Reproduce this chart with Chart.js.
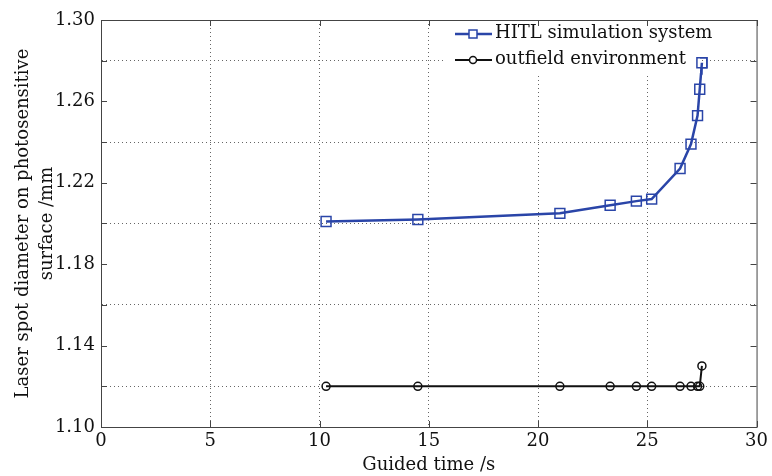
<!DOCTYPE html>
<html>
<head>
<meta charset="utf-8">
<script src="https://cdn.jsdelivr.net/npm/chart.js@4.4.0/dist/chart.umd.min.js"></script>
<style>
  html, body { margin: 0; padding: 0; background: #fff; }
  #wrap { width: 772px; height: 476px; }
</style>
</head>
<body>
<div id="wrap"><canvas id="spotChart" width="772" height="476"></canvas></div>
<script>
// guided time (s) shared by both series
var guidedTime = [10.3, 14.5, 21.0, 23.3, 24.5, 25.2, 26.5, 27.0, 27.3, 27.4, 27.5];
var hitlDiameter = [1.201, 1.202, 1.205, 1.209, 1.211, 1.212, 1.227, 1.239, 1.253, 1.266, 1.279];
var outfieldDiameter = [1.12, 1.12, 1.12, 1.12, 1.12, 1.12, 1.12, 1.12, 1.12, 1.12, 1.13];
var seriesNames = ['HITL simulation system', 'outfield environment'];
var xTicks = [0, 5, 10, 15, 20, 25, 30];
var yLabelled = ['1.10', '1.14', '1.18', '1.22', '1.26', '1.30'];

var FONT = 'DejaVu Serif';
var BLUE = '#2a45a8';

function toPoints(xs, ys) {
    return xs.map(function(x, i) { return { x: x, y: ys[i] }; });
}

// box, inward ticks and legend drawn like the matlab figure
var boxPlugin = {
    id: 'boxPlugin',
    afterDraw: function(chart) {
        var ctx = chart.ctx;
        var a = chart.chartArea;
        var xs = chart.scales.x, ys = chart.scales.y;
        ctx.save();
        ctx.strokeStyle = '#444';
        ctx.lineWidth = 1;
        ctx.setLineDash([]);
        ctx.strokeRect(a.left + 0.5, a.top + 0.5, a.right - a.left, a.bottom - a.top);
        ctx.beginPath();
        xTicks.forEach(function(v) {
            var px = Math.round(xs.getPixelForValue(v)) + 0.5;
            ctx.moveTo(px, a.bottom); ctx.lineTo(px, a.bottom - 6);
            ctx.moveTo(px, a.top); ctx.lineTo(px, a.top + 6);
        });
        for (var v = 1.10; v <= 1.3001; v += 0.02) {
            var py = Math.round(ys.getPixelForValue(v)) + 0.5;
            ctx.moveTo(a.left, py); ctx.lineTo(a.left + 6, py);
            ctx.moveTo(a.right, py); ctx.lineTo(a.right - 6, py);
        }
        ctx.stroke();
        ctx.restore();
    },
    afterDatasetsDraw: function(chart) {
        var ctx = chart.ctx;
        var a = chart.chartArea;
        ctx.save();
        // legend background over the grid
        ctx.fillStyle = '#fff';
        ctx.fillRect(445, a.top + 1, 255, 52);
        var rows = [
            { y: 34, color: BLUE, width: 2.5, style: 'rect', r: 4 },
            { y: 60, color: '#111', width: 2, style: 'circle', r: 3.5 }
        ];
        rows.forEach(function(r, i) {
            ctx.strokeStyle = r.color;
            ctx.lineWidth = r.width;
            ctx.beginPath();
            ctx.moveTo(455, r.y); ctx.lineTo(492, r.y);
            ctx.stroke();
            ctx.lineWidth = 1.5;
            ctx.fillStyle = '#fff';
            ctx.beginPath();
            if (r.style === 'rect') {
                ctx.rect(473 - r.r, r.y - r.r, r.r * 2, r.r * 2);
            } else {
                ctx.arc(473, r.y, r.r, 0, Math.PI * 2);
            }
            ctx.fill();
            ctx.stroke();
            ctx.fillStyle = '#111';
            ctx.font = '18px "' + FONT + '"';
            ctx.textBaseline = 'middle';
            ctx.fillText(seriesNames[i], 495, r.y - 1);
        });
        ctx.restore();
        // redraw top marker of HITL over the legend background
        var meta = chart.getDatasetMeta(0);
        var last = meta.data[meta.data.length - 1];
        ctx.save();
        ctx.strokeStyle = BLUE;
        ctx.fillStyle = '#fff';
        ctx.lineWidth = 1.5;
        ctx.beginPath();
        ctx.moveTo(last.x, last.y + 5);
        ctx.lineTo(last.x, last.y + 12);
        ctx.stroke();
        ctx.beginPath();
        ctx.rect(last.x - 5, last.y - 5, 10, 10);
        ctx.stroke();
        ctx.restore();
    }
};

var ctx = document.getElementById('spotChart').getContext('2d');
var spotChart = new Chart(ctx, {
    type: 'line',
    data: {
        datasets: [{
            label: seriesNames[0],
            data: toPoints(guidedTime, hitlDiameter),
            borderColor: BLUE,
            borderWidth: 2.5,
            pointStyle: 'rect',
            pointRadius: 7,
            pointBorderWidth: 1.5,
            pointBackgroundColor: 'rgba(255,255,255,0)',
            pointBorderColor: BLUE,
            fill: false,
            tension: 0
        }, {
            label: seriesNames[1],
            data: toPoints(guidedTime, outfieldDiameter),
            borderColor: '#111',
            borderWidth: 2,
            pointStyle: 'circle',
            pointRadius: 4,
            pointBorderWidth: 1.5,
            pointBackgroundColor: 'rgba(255,255,255,0)',
            pointBorderColor: '#111',
            fill: false,
            tension: 0
        }]
    },
    options: {
        responsive: false,
        animation: false,
        layout: { padding: { left: 0, right: 14, top: 20, bottom: 0 } },
        plugins: {
            legend: { display: false },
            tooltip: { enabled: false }
        },
        scales: {
            x: {
                type: 'linear',
                min: 0,
                max: 30,
                afterBuildTicks: function(scale) {
                    scale.ticks = xTicks.map(function(v) { return { value: v }; });
                },
                afterFit: function(scale) { scale.height = 49; },
                border: { display: true, color: '#444', dash: [1, 3] },
                grid: {
                    drawTicks: false,
                    color: function(c) {
                        var v = c.tick && c.tick.value;
                        return (v === 0 || v === 30) ? 'rgba(0,0,0,0)' : '#666';
                    },
                    lineWidth: 1
                },
                ticks: {
                    color: '#111',
                    padding: 4,
                    maxRotation: 0,
                    font: { family: FONT, size: 18 }
                },
                title: {
                    display: true,
                    text: 'Guided time /s',
                    color: '#111',
                    padding: { top: 0, bottom: 0 },
                    font: { family: FONT, size: 18 }
                }
            },
            y: {
                min: 1.10,
                max: 1.30,
                afterBuildTicks: function(scale) {
                    var t = [];
                    for (var i = 0; i <= 10; i++) t.push({ value: +(1.10 + i * 0.02).toFixed(2) });
                    scale.ticks = t;
                },
                afterFit: function(scale) { scale.width = 101; },
                border: { display: true, color: '#444', dash: [1, 3] },
                grid: {
                    drawTicks: false,
                    color: function(c) {
                        return c.index % 2 === 1 ? '#666' : 'rgba(0,0,0,0)';
                    },
                    lineWidth: 1
                },
                ticks: {
                    color: '#111',
                    padding: 6,
                    autoSkip: false,
                    font: { family: FONT, size: 18 },
                    callback: function(value, index) {
                        return index % 2 === 0 ? yLabelled[index / 2] : '';
                    }
                },
                title: {
                    display: true,
                    text: ['Laser spot diameter on photosensitive', 'surface /mm'],
                    color: '#111',
                    padding: { top: 12, bottom: 0 },
                    font: { family: FONT, size: 18, lineHeight: 1.3 }
                }
            }
        }
    },
    plugins: [boxPlugin]
});
</script>
</body>
</html>
